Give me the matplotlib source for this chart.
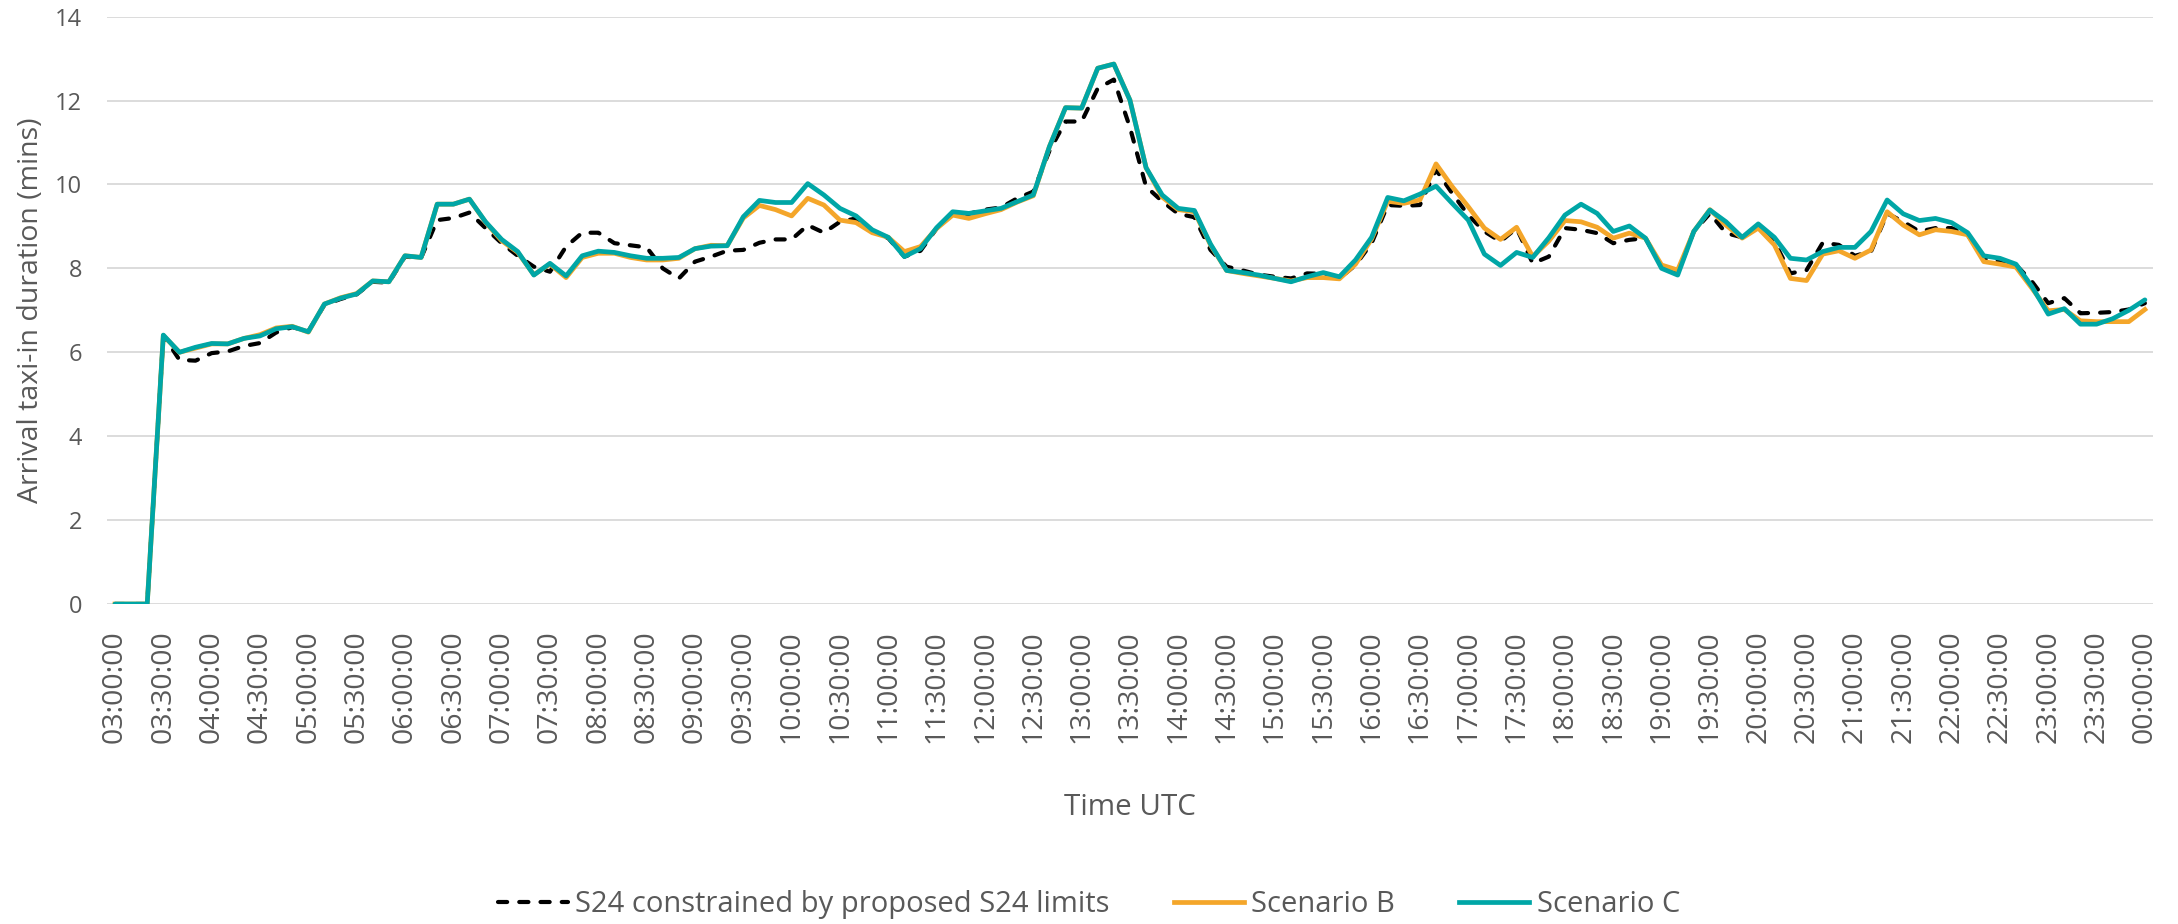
import numpy as np
import matplotlib
matplotlib.use("Agg")
import matplotlib.pyplot as plt
from matplotlib.lines import Line2D

# arrival taxi-in duration (mins), one value per 10 minutes, 03:00 -> 00:00
s24_limits = [
    0, 0, 0, 6.4, 5.82, 5.8, 5.98, 6.02, 6.15, 6.22,
    6.47, 6.6, 6.5, 7.13, 7.27, 7.38, 7.68, 7.66, 8.28, 8.25,
    9.15, 9.2, 9.33, 8.96, 8.6, 8.3, 8.04, 7.92, 8.52, 8.85,
    8.85, 8.6, 8.55, 8.5, 8.0, 7.76, 8.16, 8.28, 8.42, 8.44,
    8.61, 8.69, 8.69, 9.03, 8.85, 9.11, 9.19, 8.88, 8.72, 8.28,
    8.42, 8.95, 9.3, 9.3, 9.4, 9.45, 9.67, 9.83, 10.8, 11.5,
    11.5, 12.29, 12.5, 11.36, 9.95, 9.6, 9.3, 9.22, 8.44, 8.04,
    7.95, 7.85, 7.8, 7.76, 7.88, 7.87, 7.76, 8.08, 8.6, 9.51,
    9.49, 9.51, 10.35, 9.79, 9.27, 8.88, 8.64, 8.96, 8.12, 8.28,
    8.96, 8.92, 8.84, 8.6, 8.68, 8.72, 8.04, 7.88, 8.88, 9.31,
    8.84, 8.74, 9.03, 8.64, 7.88, 7.96, 8.61, 8.56, 8.3, 8.4,
    9.31, 9.11, 8.88, 8.96, 8.96, 8.8, 8.24, 8.16, 8.08, 7.68,
    7.17, 7.29, 6.93, 6.94, 6.96, 7.02, 7.17,
]

scenario_b = [
    0, 0, 0, 6.4, 6.0, 6.1, 6.2, 6.2, 6.33, 6.42,
    6.58, 6.62, 6.48, 7.15, 7.3, 7.4, 7.7, 7.68, 8.3, 8.26,
    9.53, 9.53, 9.65, 9.1, 8.66, 8.38, 7.85, 8.1, 7.78, 8.26,
    8.36, 8.36, 8.26, 8.2, 8.2, 8.24, 8.47, 8.55, 8.54, 9.2,
    9.5, 9.4, 9.25, 9.67, 9.51, 9.15, 9.09, 8.85, 8.74, 8.4,
    8.52, 8.95, 9.27, 9.19, 9.3, 9.4, 9.58, 9.73, 10.9, 11.83,
    11.82, 12.77, 12.87, 12.01, 10.4, 9.7, 9.4, 9.35, 8.56, 7.95,
    7.88, 7.82, 7.76, 7.7, 7.78, 7.78, 7.75, 8.1, 8.7, 9.6,
    9.55, 9.63, 10.49, 9.95, 9.47, 8.96, 8.69, 8.98, 8.28, 8.65,
    9.14, 9.11, 8.98, 8.72, 8.84, 8.72, 8.08, 7.96, 8.88, 9.4,
    9.03, 8.72, 8.96, 8.56, 7.76, 7.71, 8.34, 8.42, 8.24, 8.44,
    9.35, 9.03, 8.8, 8.92, 8.88, 8.8, 8.16, 8.1, 8.03, 7.52,
    6.99, 7.02, 6.75, 6.73, 6.73, 6.73, 7.02,
]

scenario_c = [
    0, 0, 0, 6.41, 6.0, 6.12, 6.21, 6.2, 6.33, 6.39,
    6.56, 6.61, 6.49, 7.15, 7.29, 7.39, 7.7, 7.68, 8.3, 8.26,
    9.53, 9.53, 9.65, 9.11, 8.69, 8.4, 7.84, 8.12, 7.82, 8.3,
    8.41, 8.38, 8.3, 8.24, 8.24, 8.26, 8.47, 8.53, 8.54, 9.23,
    9.62, 9.57, 9.57, 10.02, 9.75, 9.43, 9.25, 8.92, 8.74, 8.28,
    8.47, 8.97, 9.35, 9.31, 9.37, 9.43, 9.59, 9.75, 10.9, 11.83,
    11.82, 12.77, 12.87, 12.01, 10.4, 9.75, 9.43, 9.38, 8.58, 7.95,
    7.9, 7.84, 7.76, 7.68, 7.8, 7.9, 7.8, 8.2, 8.74, 9.69,
    9.61, 9.77, 9.96, 9.55, 9.15, 8.34, 8.07, 8.38, 8.26, 8.73,
    9.27, 9.53, 9.31, 8.88, 9.01, 8.72, 8.0, 7.84, 8.88, 9.39,
    9.11, 8.74, 9.06, 8.74, 8.24, 8.2, 8.4, 8.5, 8.5, 8.88,
    9.63, 9.3, 9.14, 9.19, 9.09, 8.85, 8.3, 8.24, 8.1, 7.56,
    6.91, 7.04, 6.67, 6.67, 6.8, 7.0, 7.25,
]

# time labels, every 10 minutes from 03:00 to 00:00
times = [f"{((180 + 10 * k) // 60) % 24:02d}:{(10 * k) % 60:02d}:00"
         for k in range(len(scenario_c))]
label_step = 3

plt.rcParams['font.family'] = ['Open Sans', 'DejaVu Sans']
grey = '#595959'
dash = (0, (2.2, 2.9))

fig = plt.figure(figsize=(21.78, 9.24), dpi=100)
ax = fig.add_axes([0.0491, 0.3463, 0.9394, 0.6357])

x = np.arange(len(times))
ax.plot(x, s24_limits, color='black', lw=3.0, ls=dash,
        solid_capstyle='round', dash_capstyle='round', zorder=3,
        label='S24 constrained by proposed S24 limits')
ax.plot(x, scenario_b, color='#F4A62A', lw=3.4, zorder=4, label='Scenario B')
ax.plot(x, scenario_c, color='#00A6A6', lw=3.4, solid_capstyle='round',
        zorder=5, label='Scenario C')

ax.set_xlim(-0.5, len(times) - 0.5)
ax.set_ylim(0, 14)
ax.set_yticks(range(0, 15, 2))
ax.set_xticks(x[::label_step])
ax.set_xticklabels(times[::label_step], rotation=90, fontsize=20.5, color=grey)
ax.tick_params(axis='x', length=0, pad=19)
ax.tick_params(axis='y', length=0, pad=18, labelsize=17, labelcolor=grey)

ax.grid(axis='y', color='#D9D9D9', lw=1.3)
ax.set_axisbelow(True)
for s in ax.spines.values():
    s.set_visible(False)

ax.set_xlabel('Time UTC', fontsize=21.3, color=grey, labelpad=36)
ax.set_ylabel('Arrival taxi-in duration (mins)', fontsize=20.5, color=grey, labelpad=7)

handles = [
    Line2D([], [], color='black', lw=3.0, ls=dash, dash_capstyle='round'),
    Line2D([], [], color='#F4A62A', lw=3.4),
    Line2D([], [], color='#00A6A6', lw=3.4),
]
fig.legend(handles, ['S24 constrained by proposed S24 limits', 'Scenario B', 'Scenario C'],
           loc='center', bbox_to_anchor=(0.5, 0.021), ncol=3, frameon=False,
           fontsize=21, labelcolor=grey, handlelength=2.4, columnspacing=2.2,
           handletextpad=0.25)

fig.savefig('out.png', dpi=100)
